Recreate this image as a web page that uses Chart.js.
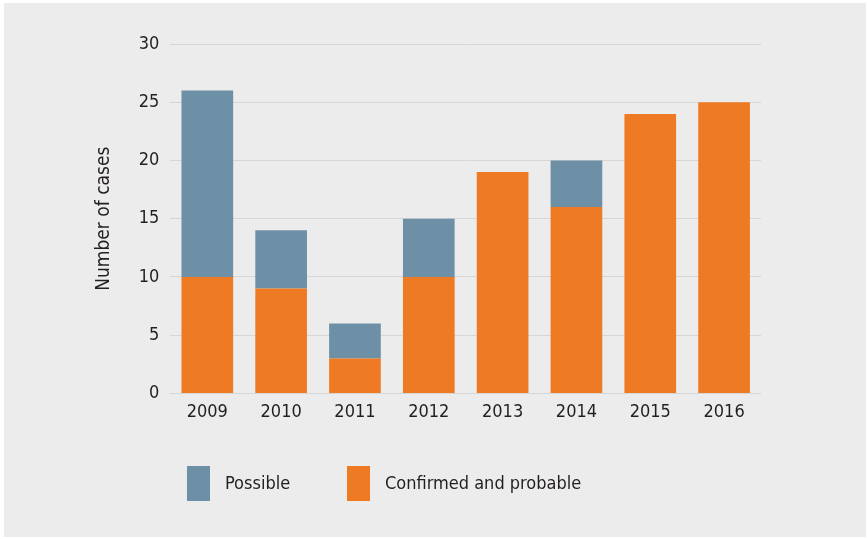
<!DOCTYPE html>
<html>
<head>
<meta charset="utf-8">
<script src="https://cdn.jsdelivr.net/npm/chart.js@4"></script>
<style>
  html, body { margin: 0; padding: 0; background: #ffffff; }
  #wrap { position: absolute; left: 4px; top: 3px; width: 862px; height: 534px; background: #ebeceb; }
</style>
</head>
<body>
<div id="wrap"><canvas id="casesChart" width="862" height="534"></canvas></div>
<script>
var years = ['2009', '2010', '2011', '2012', '2013', '2014', '2015', '2016'];
var confirmedProbable = [10, 9, 3, 10, 19, 16, 24, 25];
var possible = [16, 5, 3, 5, 0, 4, 0, 0];
var yTicks = [0, 5, 10, 15, 20, 25, 30];

var orange = '#ee7b24';
var slate = '#6e90a6';
var textColor = '#231f20';
var fontFamily = '"DejaVu Sans Condensed", "DejaVu Sans", sans-serif';

// legend drawn underneath the plot, Possible first
var bottomLegend = {
    id: 'bottomLegend',
    afterDraw: function (chart) {
        var ctx = chart.ctx;
        var items = [chart.data.datasets[1], chart.data.datasets[0]];
        var boxX = [183, 343];
        ctx.save();
        ctx.font = '18px ' + fontFamily;
        ctx.textBaseline = 'middle';
        items.forEach(function (ds, i) {
            ctx.fillStyle = ds.backgroundColor;
            ctx.fillRect(boxX[i], 463, 23, 35);
            ctx.fillStyle = textColor;
            ctx.fillText(ds.label, boxX[i] + 38, 481);
        });
        ctx.restore();
    }
};

Chart.defaults.font.family = fontFamily;
Chart.defaults.color = textColor;

new Chart(document.getElementById('casesChart').getContext('2d'), {
    type: 'bar',
    data: {
        labels: years,
        datasets: [{
            label: 'Confirmed and probable',
            data: confirmedProbable,
            backgroundColor: orange,
            borderWidth: 0,
            barPercentage: 0.7,
            categoryPercentage: 1
        }, {
            label: 'Possible',
            data: possible,
            backgroundColor: slate,
            borderWidth: 0,
            barPercentage: 0.7,
            categoryPercentage: 1
        }]
    },
    options: {
        responsive: false,
        animation: false,
        layout: { padding: { left: 89, right: 105, top: 41, bottom: 114 } },
        plugins: {
            legend: { display: false },
            tooltip: { enabled: false }
        },
        scales: {
            x: {
                stacked: true,
                grid: { display: false },
                border: { display: false },
                ticks: { font: { size: 18 }, padding: 0 }
            },
            y: {
                stacked: true,
                min: 0,
                max: 30,
                afterBuildTicks: function (axis) {
                    axis.ticks = yTicks.map(function (v) { return { value: v }; });
                },
                grid: { color: '#d5d6d5', lineWidth: 1, drawTicks: false },
                border: { display: false },
                ticks: { font: { size: 18 }, padding: 11 },
                title: {
                    display: true,
                    text: 'Number of cases',
                    font: { size: 19 },
                    padding: { top: 0, bottom: 12 }
                }
            }
        }
    },
    plugins: [bottomLegend]
});
</script>
</body>
</html>
